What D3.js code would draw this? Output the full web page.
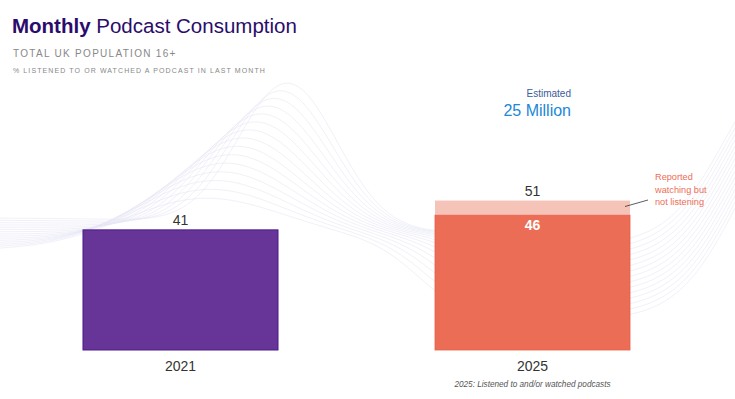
<!DOCTYPE html>
<html><head><meta charset="utf-8">
<script src="https://cdn.jsdelivr.net/npm/d3@7"></script>
<style>body{margin:0;background:#fff;}svg{display:block;font-family:"Liberation Sans",Arial,sans-serif;}</style>
</head><body>
<svg id="c" width="735" height="399"></svg>
<script>
const categories = ["2021", "2025"];
const totalValues = [41, 51];
const listenedValues = [41, 46];
const barLabels = ["41", "51"];
const innerLabels = [null, "46"];

const W = 735, H = 399;
const svg = d3.select("#c");

// decorative background waves
const bg = svg.append("g");
const xs = d3.range(-10, W + 11, 3);
const line = d3.line().curve(d3.curveBasis);
const G = (x, c, w) => Math.exp(-Math.pow((x - c) / w, 2));
const S = (x, c, w) => 1 / (1 + Math.exp(-(x - c) / w));
const N = 15;
for (let i = 0; i < N; i++) {
  const t = i / (N - 1);
  const a1 = 146 - 100 * t, c1 = 288 - 90 * t, w1 = 70 + 40 * t;
  const d = 15 + 70 * t, cd = 520 - 100 * t;
  const r = 215 + 10 * t, c3 = 725 + 10 * t;
  const pts = xs.map(xx => [xx,
    232 + 4 * t + 28 * (t - 0.5) * (1 - S(xx, 220, 50))
      - a1 * G(xx, c1, w1) + d * S(xx, cd, 25) - r * S(xx, c3, 30)]);
  bg.append("path").attr("d", line(pts))
    .attr("fill", "none").attr("stroke", "#e4e4f4").attr("stroke-width", 0.8).attr("opacity", 0.7);
}

// scales
const x = d3.scaleBand().domain(categories).range([4.5, 708.5]).paddingInner(0.446).paddingOuter(0.223);
const y = d3.scaleLinear().domain([0, 100]).range([350, 57]);

// 2021 bar
const g = svg.append("g");
g.append("rect").attr("x", x(categories[0])).attr("width", x.bandwidth())
  .attr("y", y(totalValues[0])).attr("height", y(0) - y(totalValues[0]))
  .attr("fill", "#673597").attr("stroke", "#4a1a8a").attr("stroke-width", 1);

// 2025 stacked
g.append("rect").attr("x", x(categories[1])).attr("width", x.bandwidth())
  .attr("y", y(totalValues[1])).attr("height", y(listenedValues[1]) - y(totalValues[1]))
  .attr("fill", "#f5c3b8");
g.append("rect").attr("x", x(categories[1])).attr("width", x.bandwidth())
  .attr("y", y(listenedValues[1])).attr("height", y(0) - y(listenedValues[1]))
  .attr("fill", "#ec6d56").attr("stroke", "#e65d47").attr("stroke-width", 0.8);

// value labels
categories.forEach((c, i) => {
  g.append("text").attr("x", x(c) + x.bandwidth() / 2).attr("y", y(totalValues[i]) - 5)
    .attr("text-anchor", "middle").attr("font-size", 14).attr("fill", "#333").text(barLabels[i]);
  if (innerLabels[i]) g.append("text").attr("x", x(c) + x.bandwidth() / 2).attr("y", y(listenedValues[i]) + 15)
    .attr("text-anchor", "middle").attr("font-size", 14).attr("font-weight", "bold").attr("fill", "#fff").text(innerLabels[i]);
  g.append("text").attr("x", x(c) + x.bandwidth() / 2).attr("y", 371)
    .attr("text-anchor", "middle").attr("font-size", 14).attr("fill", "#333").text(c);
});

// footnote
svg.append("text").attr("x", x(categories[1]) + x.bandwidth() / 2).attr("y", 387)
  .attr("text-anchor", "middle").attr("font-size", 8.2).attr("font-style", "italic").attr("fill", "#555")
  .text("2025: Listened to and/or watched podcasts");

// annotations
svg.append("text").attr("x", 571).attr("y", 97).attr("text-anchor", "end").attr("font-size", 10).attr("fill", "#3b5b99").text("Estimated");
svg.append("text").attr("x", 571).attr("y", 116).attr("text-anchor", "end").attr("font-size", 16).attr("fill", "#2088d6").text("25 Million");

const ann = svg.append("text").attr("font-size", 9.2).attr("fill", "#ec6d56");
["Reported", "watching but", "not listening"].forEach((t, i) =>
  ann.append("tspan").attr("x", 655).attr("y", 180 + i * 12.7).text(t));
svg.append("line").attr("x1", 625).attr("y1", 206.5).attr("x2", 648).attr("y2", 200).attr("stroke", "#333").attr("stroke-width", 0.8);

// titles
const t = svg.append("text").attr("x", 12).attr("y", 33).attr("font-size", 20.5).attr("fill", "#2b0c6b");
t.append("tspan").attr("font-weight", "bold").text("Monthly");
t.append("tspan").text(" Podcast Consumption");
svg.append("text").attr("x", 13).attr("y", 57).attr("font-size", 10).attr("letter-spacing", 1.3).attr("fill", "#888").text("TOTAL UK POPULATION 16+");
svg.append("text").attr("x", 13).attr("y", 73).attr("font-size", 7).attr("letter-spacing", 1.1).attr("fill", "#888").text("% LISTENED TO OR WATCHED A PODCAST IN LAST MONTH");
</script>
</body></html>
